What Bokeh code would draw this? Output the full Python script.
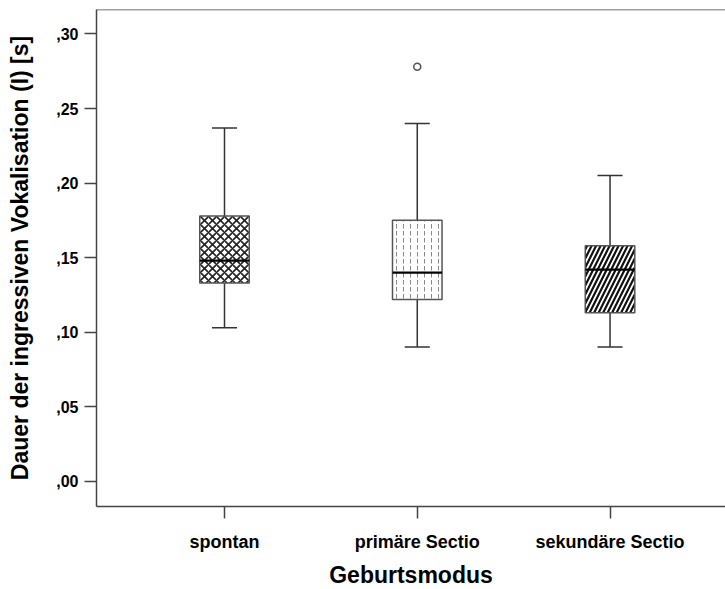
from bokeh.plotting import figure
from bokeh.models import Range1d, FixedTicker, Span
from bokeh.embed import file_html
from bokeh.resources import INLINE

categories = ["spontan", "primäre Sectio", "sekundäre Sectio"]
whisker_low = [0.103, 0.090, 0.090]
q1 = [0.133, 0.122, 0.113]
median = [0.148, 0.140, 0.142]
q3 = [0.178, 0.175, 0.158]
whisker_high = [0.237, 0.240, 0.205]
outlier_cat = [1]
outlier_val = [0.278]
y_ticks = [0.0, 0.05, 0.10, 0.15, 0.20, 0.25, 0.30]
y_tick_labels = [",00", ",05", ",10", ",15", ",20", ",25", ",30"]

xs = [i + 0.5 for i in range(len(categories))]
box_w = 0.257
cap_w = 0.13

p = figure(frame_width=629, frame_height=497, output_backend="svg", toolbar_location=None,
           x_range=Range1d(-0.164, 3.099), y_range=Range1d(-0.0169, 0.3164),
           min_border_left=96, min_border_right=0, min_border_top=9, min_border_bottom=83)
p.outline_line_color = None
p.grid.visible = False
p.background_fill_color = "white"
p.border_fill_color = "white"

FONT = "Liberation Sans"
AX = "#444444"

p.yaxis.ticker = FixedTicker(ticks=y_ticks)
p.yaxis.major_label_overrides = {t: l for t, l in zip(y_ticks, y_tick_labels)}
p.xaxis.ticker = FixedTicker(ticks=xs)
p.xaxis.major_label_overrides = {x: c for x, c in zip(xs, categories)}
for ax in (p.xaxis, p.yaxis):
    ax.minor_tick_line_color = None
    ax.major_tick_out = 12
    ax.major_tick_in = 0
    ax.axis_line_color = AX
    ax.axis_line_width = 1.5
    ax.major_tick_line_color = AX
    ax.major_tick_line_width = 1.5
    ax.major_label_text_font = FONT
    ax.major_label_text_font_style = "bold"
    ax.major_label_text_color = "black"
    ax.axis_label_text_font = FONT
    ax.axis_label_text_font_style = "bold"
    ax.axis_label_text_font_size = "23px"
    ax.axis_label_text_color = "black"
p.yaxis.major_label_text_font_size = "16px"
p.xaxis.major_label_text_font_size = "18px"
p.xaxis.axis_label = "Geburtsmodus"
p.yaxis.axis_label = "Dauer der ingressiven Vokalisation (I) [s]"
p.xaxis.major_label_standoff = 13
p.xaxis.axis_label_standoff = 7
p.yaxis.major_label_standoff = 6
p.yaxis.axis_label_standoff = 20

p.add_layout(Span(location=0.3164, dimension="width", line_color=AX, line_width=1.5))

# whiskers
p.segment(xs, whisker_high, xs, q3, line_color="#333333", line_width=1.5)
p.segment(xs, q1, xs, whisker_low, line_color="#333333", line_width=1.5)
p.segment([x - cap_w / 2 for x in xs], whisker_high, [x + cap_w / 2 for x in xs], whisker_high,
          line_color="#333333", line_width=1.5)
p.segment([x - cap_w / 2 for x in xs], whisker_low, [x + cap_w / 2 for x in xs], whisker_low,
          line_color="#333333", line_width=1.5)

patterns = ["diagonal_cross", "vertical_dash", "right_diagonal_line"]
scales = [8, 7, 9]
weights = [1.6, 1.0, 2.2]
hcolors = ["#222222", "#888888", "#111111"]
for i in range(3):
    p.vbar(x=[xs[i]], bottom=[q1[i]], top=[q3[i]], width=box_w, fill_color="white",
           line_color="#555555", line_width=1.5, hatch_pattern=patterns[i],
           hatch_scale=scales[i], hatch_weight=weights[i], hatch_color=hcolors[i])

p.segment([x - box_w / 2 for x in xs], median, [x + box_w / 2 for x in xs], median,
          line_color="black", line_width=2.2)

p.scatter([xs[i] for i in outlier_cat], outlier_val, marker="circle", size=7,
          fill_color="white", line_color="#555555", line_width=1.5)

open("out.html", "w").write(file_html(p, INLINE))
